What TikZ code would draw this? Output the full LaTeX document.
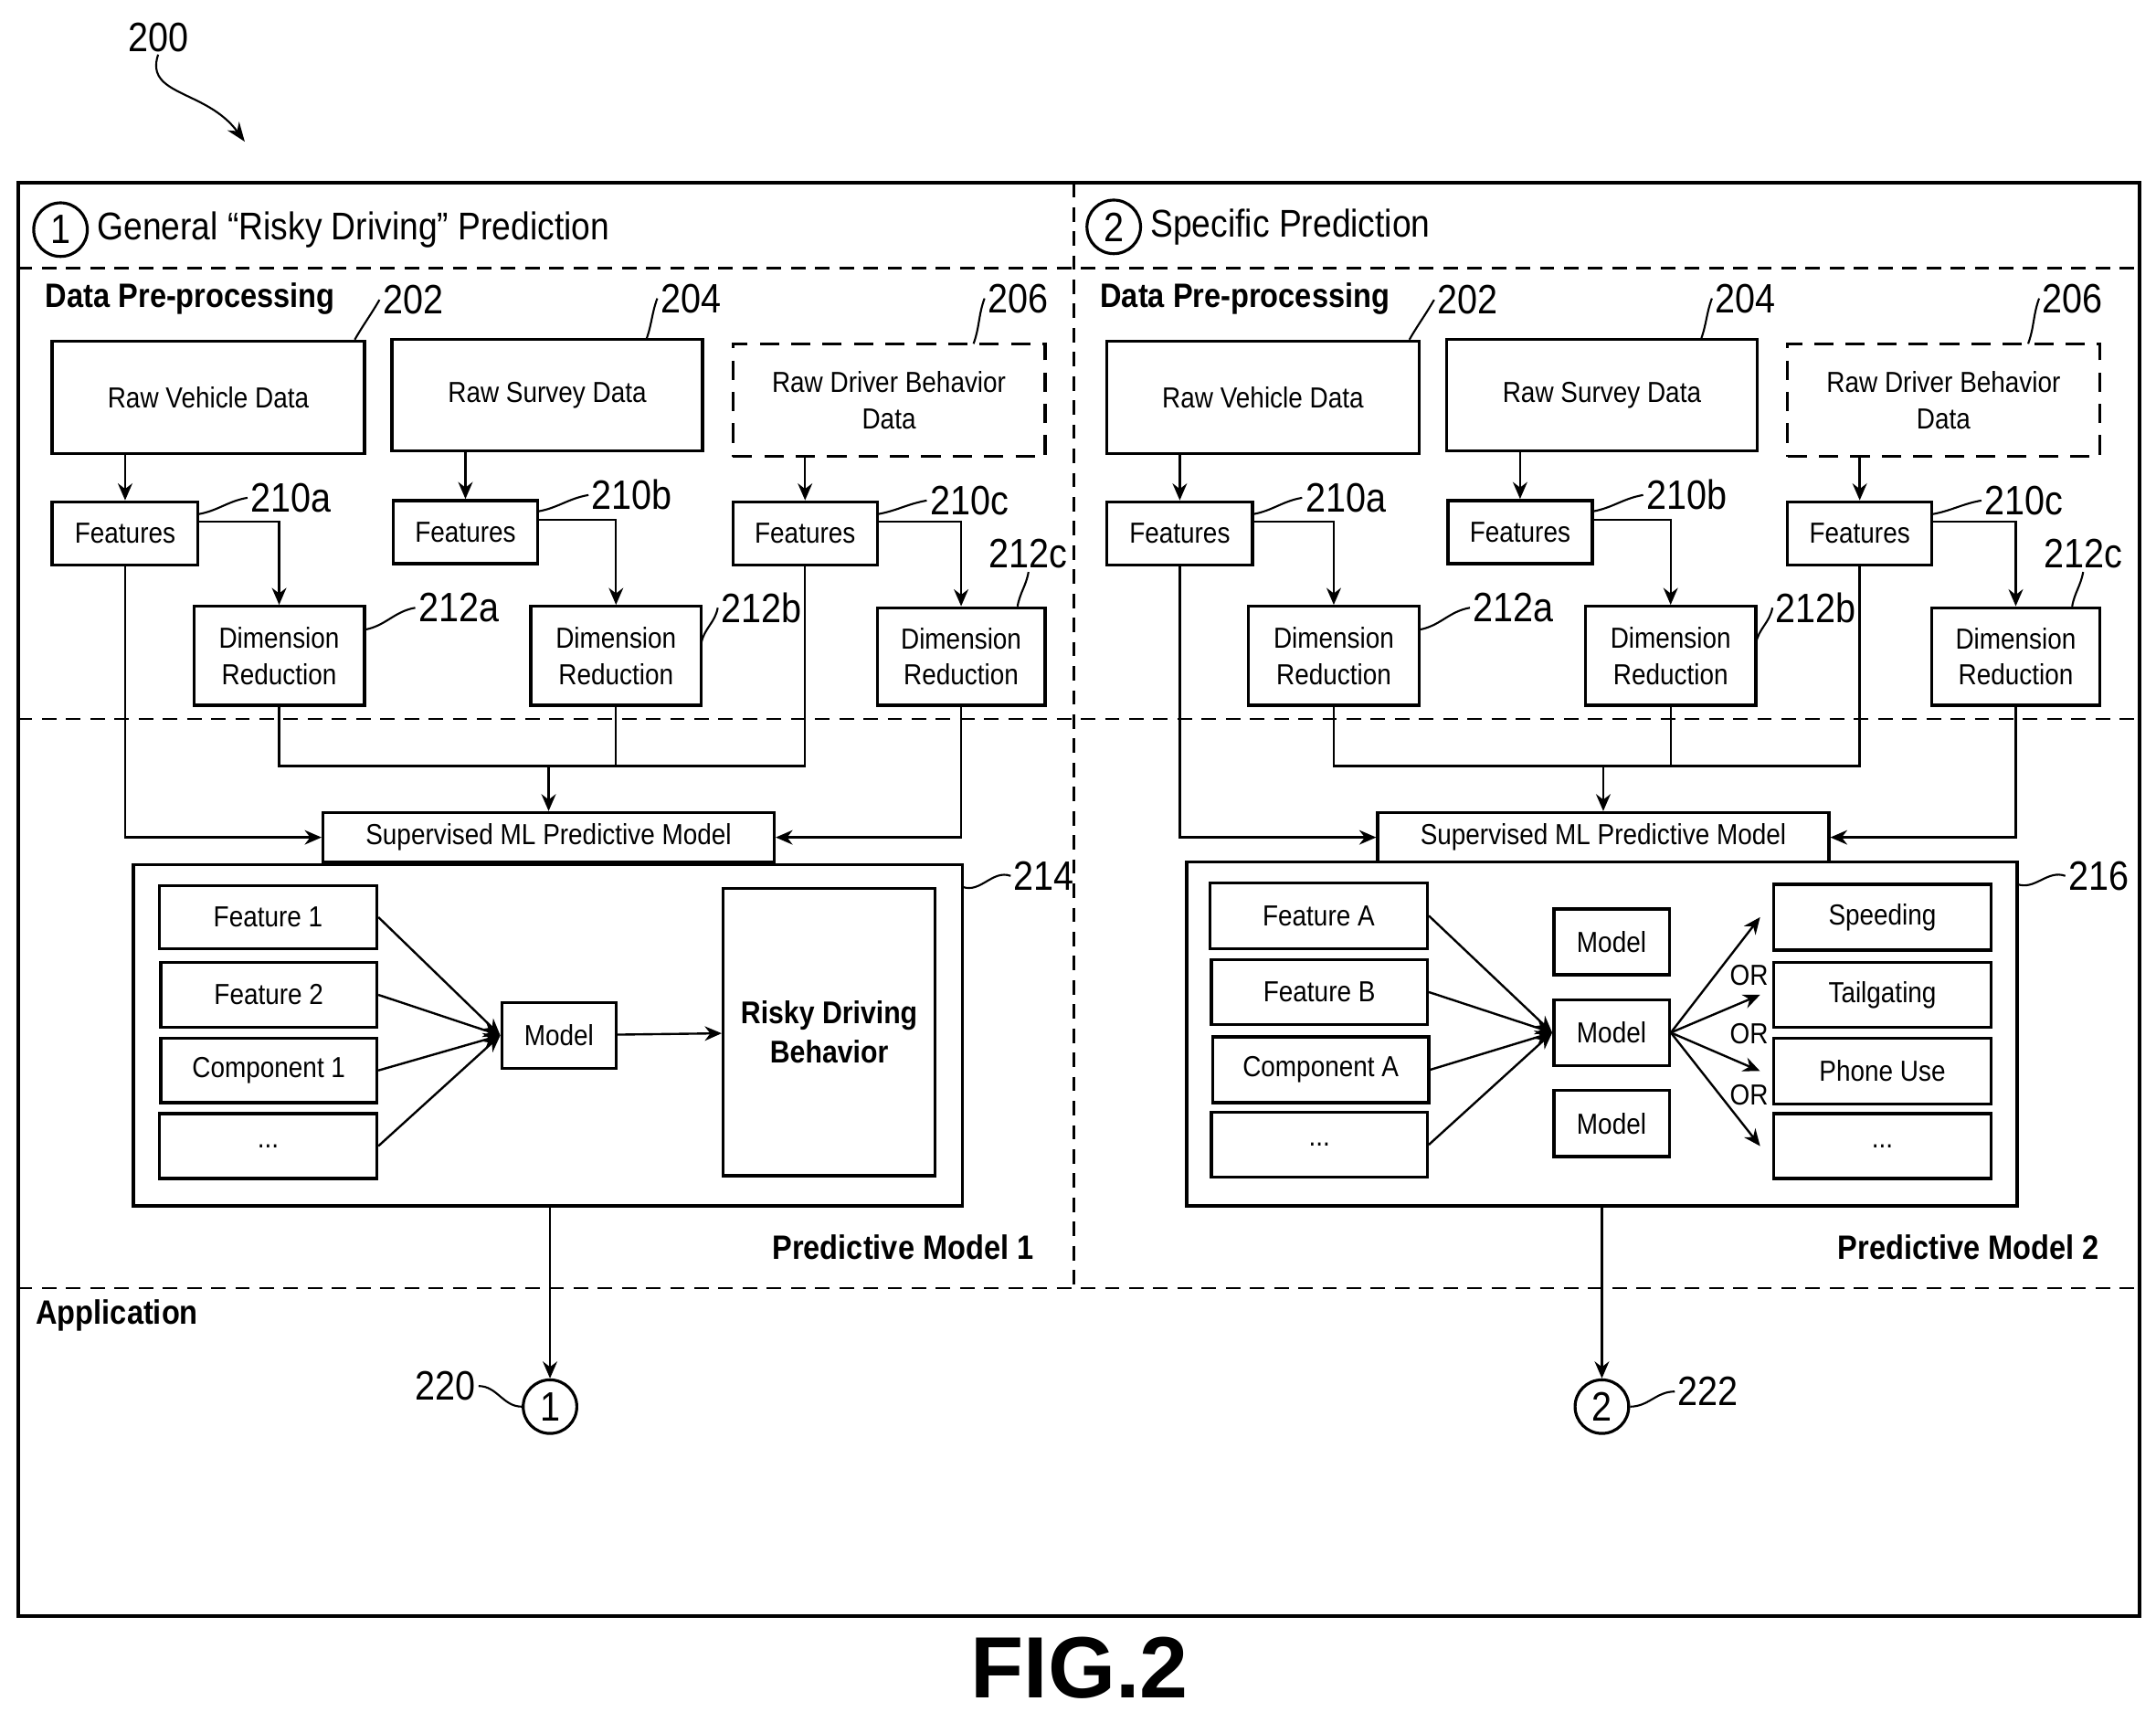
\documentclass[tikz,border=0pt]{standalone}
\usepackage{fontspec}
\setmainfont{Liberation Sans}[FakeStretch=0.88]
\newfontfamily\figfont{Liberation Sans}
\usetikzlibrary{arrows.meta}

\tikzset{
  box/.style={draw, line width=1.3pt, align=center, inner sep=0pt, font=\fontsize{12}{15}\selectfont},
  arr/.style={line width=0.9pt, -{Stealth[length=7pt,width=6pt]}},
  ln/.style={line width=0.9pt},
  lead/.style={line width=0.8pt},
  num/.style={font=\fontsize{17}{17}\selectfont, inner sep=1pt},
  sep/.style={dashed, line width=0.8pt, dash pattern=on 6pt off 4pt},
  circ/.style={draw, circle, line width=1.2pt, minimum size=0.78cm, inner sep=0pt, font=\fontsize{17}{17}\selectfont},
}
% box from pixel corners
\newcommand\bx[7][]{\node[box,#1,minimum width={(#5-#3)*0.02cm},minimum height={(#6-#4)*0.02cm}]
  (#2) at ({(#3+#5)/2},{(#4+#6)/2}) {#7};}
% leader curve plus number
\newcommand\lab[7][west]{\draw[lead] (#2,#3) to[out=#7,in=#7+180] (#4,#5) node[num,anchor=#1] {#6};}

% data pre-processing block of one side
\newcommand\prep[2]{%
\begin{scope}[shift={(#2,0)}]
  \node[anchor=west, font=\fontsize{14}{14}\selectfont\bfseries] at (27,217) {Data Pre-processing};
  \bx{rv#1}{38}{248}{265}{330}{Raw Vehicle Data}
  \bx{rs#1}{285}{247}{511}{328}{Raw Survey Data}
  \bx[dash pattern=on 8pt off 5pt]{rd#1}{533}{250}{760}{332}{Raw Driver Behavior\\Data}
  \bx{fa#1}{38}{365}{144}{411}{Features}
  \bx{fb#1}{286}{364}{391}{410}{Features}
  \bx{fc#1}{533}{365}{638}{411}{Features}
  \bx{da#1}{141}{441}{265}{513}{Dimension\\Reduction}
  \bx{db#1}{386}{441}{510}{513}{Dimension\\Reduction}
  \bx{dc#1}{638}{442}{760}{513}{Dimension\\Reduction}
  \bx{ml#1}{235}{591}{563}{627}{Supervised ML Predictive Model}
  \draw[arr] (fa#1.north |- rv#1.south) -- (fa#1.north);
  \draw[arr] (fb#1.north |- rs#1.south) -- (fb#1.north);
  \draw[arr] (fc#1.north |- rd#1.south) -- (fc#1.north);
  \draw[arr] ([yshift=5pt]fa#1.east) -| (da#1.north);
  \draw[arr] ([yshift=5pt]fb#1.east) -| (db#1.north);
  \draw[arr] ([yshift=5pt]fc#1.east) -| (dc#1.north);
  \draw[arr] (fa#1.south) |- (ml#1.west);
  \draw[arr] (dc#1.south) |- (ml#1.east);
  \coordinate (j#1) at (ml#1.north |- 0,557);
  \draw[ln] (da#1.south) |- (fc#1.south |- j#1) -- (fc#1.south);
  \draw[ln] (db#1.south) -- (db#1.south |- j#1);
  \draw[arr] (j#1) -- (ml#1.north);
  \lab{258}{247}{276}{218}{202}{60}
  \lab{470}{247}{478}{217}{204}{70}
  \lab{708}{250}{716}{217}{206}{70}
  \lab{144}{374}{180}{362}{210a}{10}
  \lab{391}{372}{428}{360}{210b}{10}
  \lab{638}{374}{674}{364}{210c}{10}
  \lab{265}{458}{302}{442}{212a}{10}
  \lab{510}{468}{522}{442}{212b}{80}
  \lab[south]{740}{441}{748}{416}{212c}{80}
\end{scope}}

\begin{document}
\begin{tikzpicture}[x=0.02cm,y=-0.02cm]
\useasboundingbox (0,0) rectangle (1568,1245);
% frame and separators
\draw[line width=1.5pt] (13,133) rectangle (1556,1175);
\draw[sep] (781,133) -- (781,937);
\foreach \yy in {195,523,937} \draw[sep] (13,\yy) -- (1556,\yy);
% reference numeral
\node[num] (n200) at (115,27) {200};
\coordinate (t200) at (178,103);
\draw[lead,-{Stealth[length=8pt]}] (n200.south) .. controls (105,70) and (150,65) .. (t200);
% titles
\node[circ] (c1t) at (44,167) {1};
\node[anchor=west, font=\fontsize{16}{16}\selectfont] at (c1t.east) {General “Risky Driving” Prediction};
\node[circ] (c2t) at (810,165) {2};
\node[anchor=west, font=\fontsize{16}{16}\selectfont] at (c2t.east) {Specific Prediction};
\node[anchor=west, font=\fontsize{14}{14}\selectfont\bfseries] at (20,957) {Application};

\prep{L}{0}
\prep{R}{767}

% predictive model 1
\bx{pm1}{97}{629}{700}{877}{}
\bx{f1}{116}{644}{274}{690}{Feature 1}
\bx{f2}{117}{700}{274}{747}{Feature 2}
\bx{k1}{117}{755}{274}{802}{Component 1}
\bx{e1}{116}{810}{274}{857}{...}
\bx{m1}{365}{729}{448}{777}{Model}
\bx[font=\fontsize{13}{16}\selectfont\bfseries]{rdb}{526}{646}{680}{855}{Risky Driving\\Behavior}
\foreach \s in {f1,f2,k1,e1} \draw[arr] (\s.east) -- (m1.west);
\draw[arr] (m1) -- (rdb);
\node[anchor=east, font=\fontsize{14}{14}\selectfont\bfseries] at (758,907) {Predictive Model 1};
\lab{700}{645}{735}{637}{214}{-20}

% predictive model 2
\bx{pm2}{863}{627}{1467}{877}{}
\bx{fA}{880}{642}{1038}{690}{Feature A}
\bx{fB}{881}{698}{1038}{745}{Feature B}
\bx{kA}{882}{754}{1039}{802}{Component A}
\bx{eA}{881}{809}{1038}{856}{...}
\bx{mt}{1130}{661}{1214}{709}{Model}
\bx{m2}{1130}{727}{1214}{775}{Model}
\bx{mb}{1130}{793}{1214}{841}{Model}
\bx{o1}{1290}{643}{1448}{691}{Speeding}
\bx{o2}{1290}{700}{1448}{747}{Tailgating}
\bx{o3}{1290}{755}{1448}{803}{Phone Use}
\bx{o4}{1290}{810}{1448}{857}{...}
\foreach \s in {fA,fB,kA,eA} \draw[arr] (\s.east) -- (m2.west);
\foreach \s in {o1,o2,o3,o4} \draw[arr] (m2.east) -- ([xshift=-5pt]\s.west);
\foreach \yy in {709,752,796} \node[font=\fontsize{12}{12}\selectfont] at (1272,\yy) {OR};
\node[anchor=east, font=\fontsize{14}{14}\selectfont\bfseries] at (1533,907) {Predictive Model 2};
\lab{1467}{643}{1502}{637}{216}{-20}

% application outputs
\node[circ] (a1) at (400,1023) {1};
\node[circ] (a2) at (1165,1023) {2};
\draw[arr] (pm1.south -| a1) -- (a1.north);
\draw[arr] (pm2.south -| a2) -- (a2.north);
\draw[lead] (a1.west) to[out=180,in=0] (348,1008) node[num,anchor=east] {220};
\draw[lead] (a2.east) to[out=0,in=180] (1218,1012) node[num,anchor=west] {222};

\node[font=\figfont\fontsize{36}{36}\selectfont\bfseries] at (785,1213) {FIG.2};
\end{tikzpicture}
\end{document}
